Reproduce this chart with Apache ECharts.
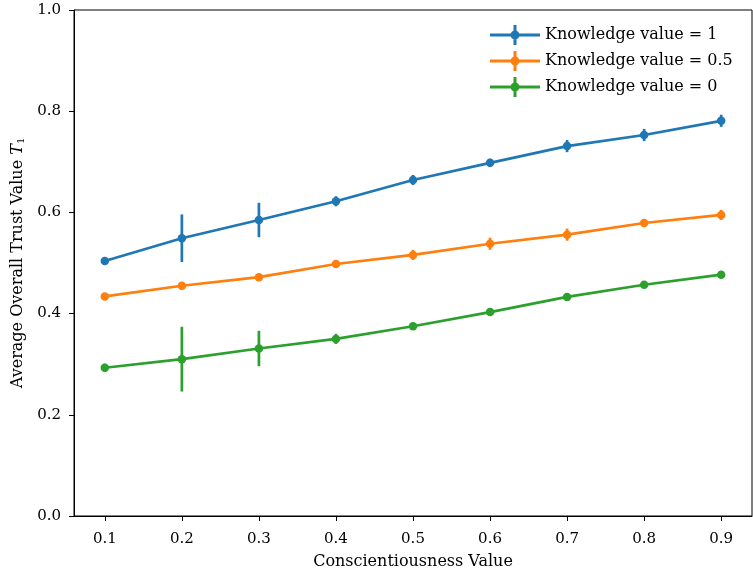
<!DOCTYPE html>
<html><head><meta charset="utf-8">
<script src="https://cdn.jsdelivr.net/npm/echarts@6/dist/echarts.min.js"></script>
<style>html,body{margin:0;padding:0;background:#fff}#c{width:753px;height:577px}</style>
</head><body><div id="c"></div>
<script>
const xValues = [0.1, 0.2, 0.3, 0.4, 0.5, 0.6, 0.7, 0.8, 0.9];
const seriesNames = ['Knowledge value = 1', 'Knowledge value = 0.5', 'Knowledge value = 0'];
const k1Mean = [0.504, 0.549, 0.585, 0.622, 0.664, 0.698, 0.731, 0.753, 0.781];
const k1Err  = [0.004, 0.047, 0.034, 0.010, 0.010, 0.008, 0.012, 0.012, 0.012];
const k05Mean = [0.434, 0.455, 0.472, 0.498, 0.516, 0.538, 0.556, 0.579, 0.595];
const k05Err  = [0.003, 0.003, 0.003, 0.004, 0.010, 0.012, 0.012, 0.008, 0.010];
const k0Mean = [0.293, 0.310, 0.331, 0.350, 0.375, 0.403, 0.433, 0.457, 0.477];
const k0Err  = [0.008, 0.064, 0.035, 0.010, 0.004, 0.003, 0.003, 0.003, 0.003];
const xTicks = [0.1, 0.2, 0.3, 0.4, 0.5, 0.6, 0.7, 0.8, 0.9];
const yTicks = [0, 0.2, 0.4, 0.6, 0.8, 1.0];
const colors = ['#1f77b4', '#ff7f0e', '#2ca02c'];

const means = [k1Mean, k05Mean, k0Mean];
const errs = [k1Err, k05Err, k0Err];
const FONT = 'DejaVu Serif';

const legendIcon = 'path://M0,8.8 L40,8.8 L40,11.2 L0,11.2 Z M18.8,2 L21.2,2 L21.2,18 L18.8,18 Z M23.6,10 A3.6,3.6 0 0 1 16.4,10 A3.6,3.6 0 0 1 23.6,10 Z';

const series = [];
means.forEach((m, i) => {
  series.push({
    name: seriesNames[i],
    type: 'line',
    data: xValues.map((x, j) => [x, m[j]]),
    symbol: 'circle',
    symbolSize: 8.5,
    showSymbol: true,
    lineStyle: { width: 2.7, color: colors[i] },
    itemStyle: { color: colors[i] },
    z: 3,
    animation: false
  });
  series.push({
    name: seriesNames[i],
    type: 'custom',
    data: xValues.map((x, j) => [x, m[j] - errs[i][j], m[j] + errs[i][j]]),
    renderItem: function (params, api) {
      const p1 = api.coord([api.value(0), api.value(1)]);
      const p2 = api.coord([api.value(0), api.value(2)]);
      return {
        type: 'line',
        shape: { x1: p1[0], y1: p1[1], x2: p2[0], y2: p2[1] },
        style: { stroke: colors[i], lineWidth: 2.7 }
      };
    },
    encode: { x: 0, y: [1, 2] },
    z: 3,
    silent: true,
    animation: false
  });
});

const chart = echarts.init(document.getElementById('c'), null, { renderer: 'canvas' });
chart.setOption({
  animation: false,
  color: colors,
  grid: { left: 74, right: 1, top: 10, bottom: 61, show: true, borderColor: '#000', borderWidth: 1, backgroundColor: 'transparent' },
  legend: {
    data: seriesNames,
    orient: 'vertical',
    left: 490,
    top: 25,
    padding: 0,
    itemWidth: 50,
    itemHeight: 20,
    itemGap: 6,
    icon: legendIcon,
    textStyle: { fontFamily: FONT, fontSize: 16, color: '#000' },
    selectedMode: false
  },
  xAxis: {
    type: 'value',
    min: 0.06,
    max: 0.94,
    name: 'Conscientiousness Value',
    nameLocation: 'middle',
    nameGap: 38,
    nameTextStyle: { fontFamily: FONT, fontSize: 16, color: '#000' },
    axisLine: { show: true, onZero: false, lineStyle: { color: '#000', width: 1 } },
    axisTick: { show: true, length: 5, lineStyle: { color: '#000' }, customValues: xTicks },
    axisLabel: { fontFamily: FONT, fontSize: 15, color: '#000', margin: 16, customValues: xTicks, formatter: v => v.toFixed(1) },
    splitLine: { show: false }
  },
  yAxis: {
    type: 'value',
    min: 0,
    max: 1,
    interval: 0.2,
    name: '{a|Average Overall Trust Value }{i|T}{s|1}',
    nameLocation: 'middle',
    nameGap: 45,
    nameTextStyle: {
      fontFamily: FONT, fontSize: 16, color: '#000',
      rich: {
        a: { fontFamily: FONT, fontSize: 16, color: '#000' },
        i: { fontFamily: FONT, fontSize: 16, fontStyle: 'italic', color: '#000' },
        s: { fontFamily: FONT, fontSize: 10, color: '#000', verticalAlign: 'bottom', padding: [6, 0, 0, 0] }
      }
    },
    axisLine: { show: true, lineStyle: { color: '#000', width: 1 } },
    axisTick: { show: true, length: 5, lineStyle: { color: '#000' } },
    axisLabel: { fontFamily: FONT, fontSize: 15, color: '#000', margin: 13, formatter: v => v.toFixed(1) },
    splitLine: { show: false }
  },
  series: series
});
</script>
</body></html>
